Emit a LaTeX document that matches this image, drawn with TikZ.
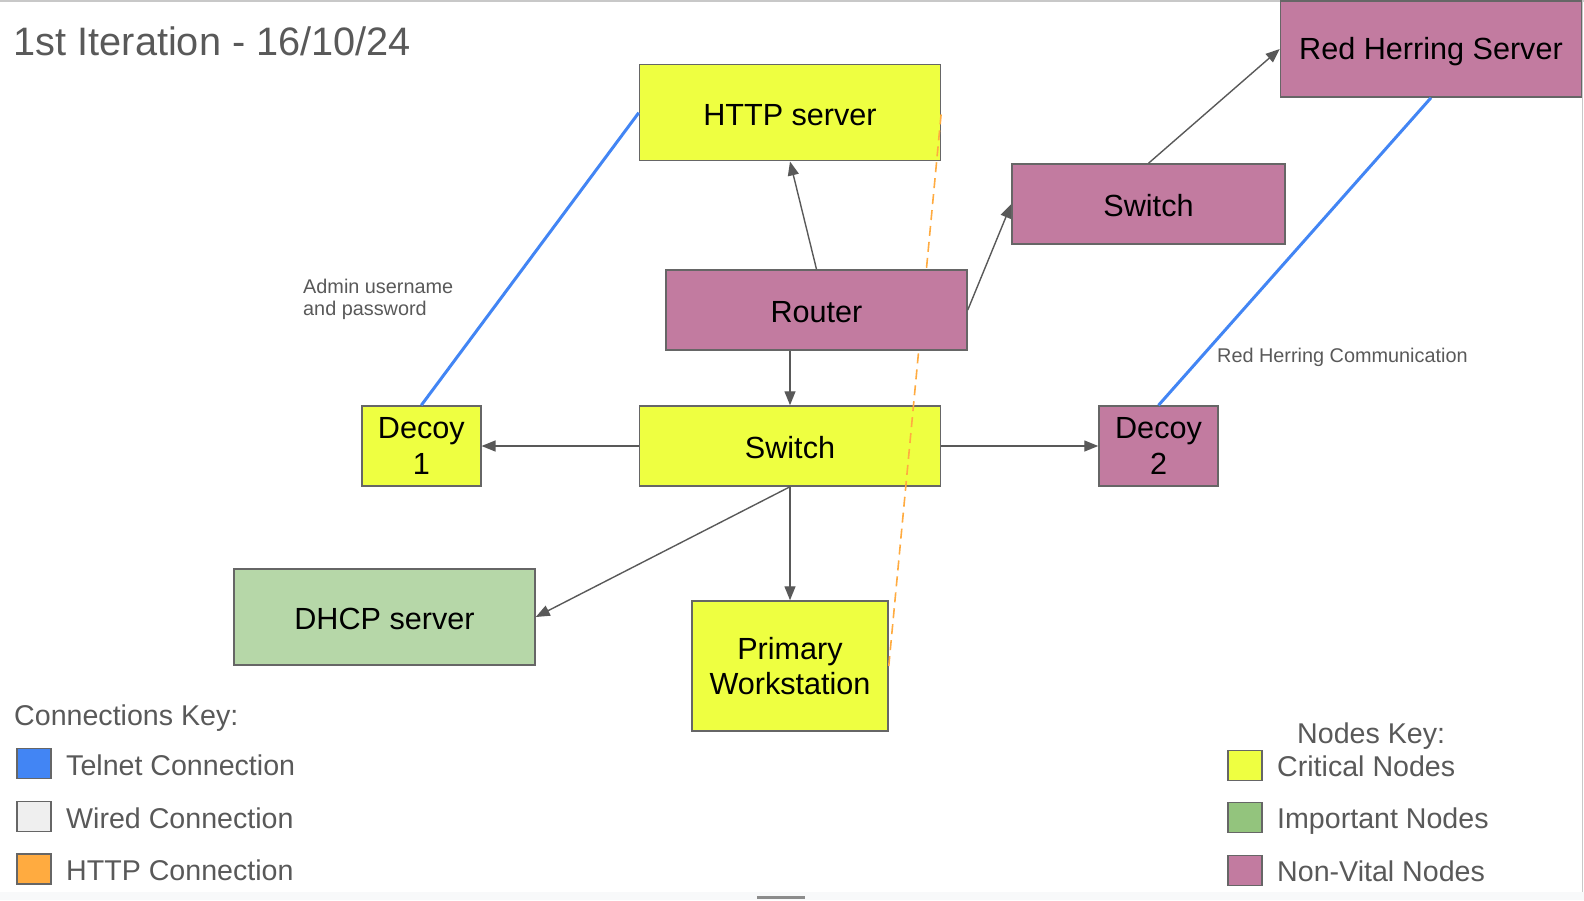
\documentclass[tikz,border=0pt]{standalone}
\usepackage{fontspec}
\setmainfont{Liberation Sans}
\usepackage{xcolor}
\usetikzlibrary{arrows.meta}
\definecolor{critical}{RGB}{238,255,65}
\definecolor{important}{RGB}{182,215,168}
\definecolor{importantkey}{RGB}{147,196,125}
\definecolor{nonvital}{RGB}{194,123,160}
\definecolor{telnet}{RGB}{66,133,244}
\definecolor{wired}{RGB}{239,239,239}
\definecolor{httpline}{RGB}{255,171,64}
\definecolor{edgegray}{RGB}{102,102,102}
\definecolor{labelgray}{RGB}{89,89,89}
\definecolor{framegray}{RGB}{200,200,200}
\definecolor{bandgray}{RGB}{248,249,250}

\begin{document}
\begin{tikzpicture}[x=1pt, y=-1pt,
    box/.style={draw=edgegray, line width=1.5, align=center, inner sep=0,
        font={\fontsize{30.6}{35.5}\selectfont}},
    onebox/.style={box, execute at begin node={\rule[-3pt]{0pt}{31pt}}},
    twobox/.style={box, execute at begin node={\rule{0pt}{28.9pt}}},
    wire/.style={draw=labelgray, line width=1.4, -{Triangle[length=14pt,width=11pt]}},
    telnetline/.style={telnet, line width=3},
    httpdash/.style={httpline, line width=1.6, dash pattern=on 10pt off 6pt},
    keybox/.style={draw=edgegray, line width=1.5, minimum width=34, minimum height=30, inner sep=0},
    keytext/.style={anchor=base west, inner sep=0, text=labelgray, font={\fontsize{28.6}{32}\selectfont}},
    note/.style={inner sep=0, text=labelgray, font={\fontsize{19.85}{22.5}\selectfont}}]
    \useasboundingbox (0,0) rectangle (1584,900);
    % page frame
    \fill[bandgray] (0,892) rectangle (1584,900);
    \fill[gray!90] (757,895.5) rectangle (805,898.5);
    \draw[framegray, line width=1.5] (0,1) -- (1584,1);
    \draw[framegray, line width=1] (1582.5,0) -- (1582.5,892);

    \node[anchor=base west, inner sep=0, text=labelgray, font={\fontsize{39.7}{44}\selectfont}] (title) at (13.5,55) {1st Iteration - 16/10/24};

    % nodes
    \node[onebox, fill=critical, minimum width=301, minimum height=96] (http) at (790,112.7) {HTTP server};
    \node[onebox, fill=nonvital, minimum width=301, minimum height=96] (herring) at (1431,49) {Red Herring Server};
    \node[onebox, fill=nonvital, minimum width=273, minimum height=80] (switchB) at (1148.5,204) {Switch};
    \node[onebox, fill=critical, minimum width=301, minimum height=80] (switchA) at (790,446) {Switch};
    \node[twobox, fill=critical, minimum width=119, minimum height=80] (decoyA) at (421.3,446) {Decoy\\1};
    \node[twobox, fill=nonvital, minimum width=119, minimum height=80] (decoyB) at (1158.5,446) {Decoy\\2};
    \node[onebox, fill=important, minimum width=301, minimum height=96] (dhcp) at (384.5,617) {DHCP server};
    \node[twobox, fill=critical, minimum width=196, minimum height=130] (work) at (790,666) {Primary\\Workstation};

    % http connection, passes under the router
    \draw[httpdash] (work.east) -- (http.east);
    \node[onebox, fill=nonvital, minimum width=301, minimum height=80] (router) at (816.5,310) {Router};

    % wired connections
    \draw[wire] (router.north) -- (http.south);
    \draw[wire] (router.east) -- (switchB.west);
    \draw[wire] (switchB.north) -- (herring.west);
    \draw[wire] (switchA.north |- router.south) -- (switchA.north);
    \draw[wire] (switchA.west) -- (decoyA.east);
    \draw[wire] (switchA.east) -- (decoyB.west);
    \draw[wire] (switchA.south) -- (dhcp.east);
    \draw[wire] (switchA.south) -- (work.north);

    % telnet connections
    \draw[telnetline] (decoyA.north) -- (http.west);
    \draw[telnetline] (decoyB.north) -- (herring.south);

    \node[note, anchor=north west, align=left] (admin) at (303,278.5) {Admin username\\and password};
    \node[note, anchor=base west] (herringnote) at (1217,362) {Red Herring Communication};

    % connections key
    \node[keytext] (connkey) at (14,725) {Connections Key:};
    \foreach \y/\col/\txt [count=\i] in {763.5/telnet/Telnet Connection, 816.5/wired/Wired Connection, 869/httpline/HTTP Connection} {
        \node[keybox, fill=\col] (conn\i) at (34,\y) {};
        \node[keytext] (conntext\i) at (66,\y+11.5) {\txt};
    }

    % nodes key
    \node[keytext] (nodekey) at (1297,743) {Nodes Key:};
    \foreach \y/\col/\txt [count=\i] in {765.5/critical/Critical Nodes, 817.5/importantkey/Important Nodes, 870.5/nonvital/Non-Vital Nodes} {
        \node[keybox, fill=\col] (kind\i) at (1245,\y) {};
        \node[keytext] (kindtext\i) at (1277,\y+10.5) {\txt};
    }
\end{tikzpicture}
\end{document}
